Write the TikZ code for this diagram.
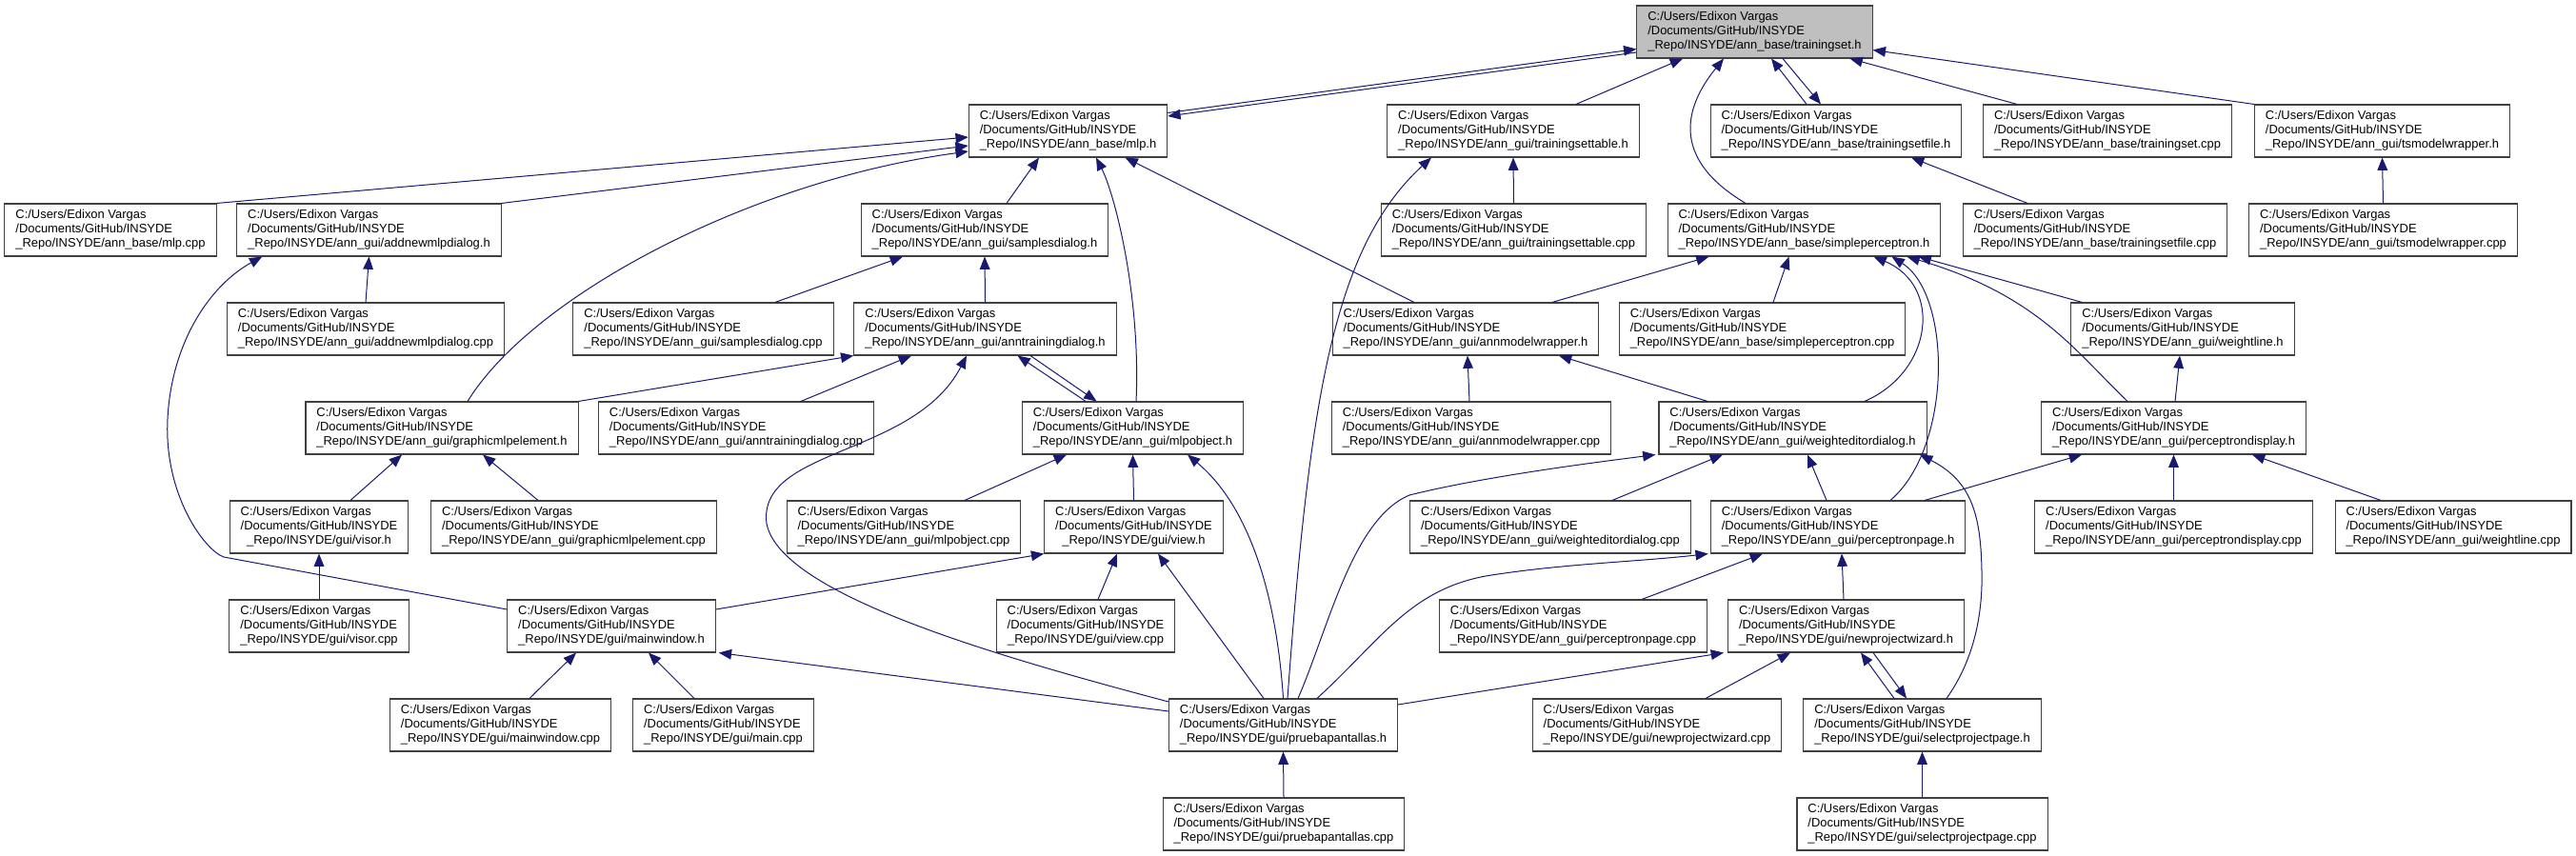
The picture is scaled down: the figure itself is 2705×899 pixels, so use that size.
\documentclass[tikz,border=0pt]{standalone}
\usepackage{fontspec}
\setmainfont{Liberation Sans}
\usetikzlibrary{arrows.meta, calc}
\definecolor{edgeblue}{HTML}{191970}
\definecolor{boxline}{HTML}{404040}
\definecolor{curfile}{HTML}{BFBFBF}
\newcommand{\fpath}[1]{\begin{tabular}{@{}l@{}}C:/Users/Edixon Vargas\\/Documents/GitHub/INSYDE\\\multicolumn{1}{@{}c@{}}{\_Repo/INSYDE/#1}\end{tabular}}
\tikzset{
  file/.style={draw=boxline, line width=0.8pt, fill=white, inner xsep=8.6pt, inner ysep=0pt,
    minimum height=41.25pt, font=\fontsize{9.7pt}{11pt}\selectfont},
  edge/.style={draw=edgeblue, line width=0.75pt, -{Triangle[length=10pt,width=8pt]}}
}
\begin{document}
\begin{tikzpicture}[x=0.75pt, y=-0.75pt]
    \useasboundingbox (0,0) rectangle (2705,899);
    % Row 0
    \node[file, fill=curfile] (ts) at (1842.5,33.5) {\fpath{ann\_base/trainingset.h}};
    % Row 1
    \node[file] (mlph) at (1121.5,137.5) {\fpath{ann\_base/mlp.h}};
    \node[file] (tstableh) at (1589,137.5) {\fpath{ann\_gui/trainingsettable.h}};
    \node[file] (tsfileh) at (1928,137.5) {\fpath{ann\_base/trainingsetfile.h}};
    \node[file] (tscpp) at (2213,137.5) {\fpath{ann\_base/trainingset.cpp}};
    \node[file] (tsmwh) at (2501.5,137.5) {\fpath{ann\_gui/tsmodelwrapper.h}};
    % Row 2
    \node[file] (mlpcpp) at (116,241.5) {\fpath{ann\_base/mlp.cpp}};
    \node[file] (addnewh) at (387.5,241.5) {\fpath{ann\_gui/addnewmlpdialog.h}};
    \node[file] (samplesh) at (1034,241.5) {\fpath{ann\_gui/samplesdialog.h}};
    \node[file] (tstablecpp) at (1589.5,241.5) {\fpath{ann\_gui/trainingsettable.cpp}};
    \node[file] (spercepth) at (1894.5,241.5) {\fpath{ann\_base/simpleperceptron.h}};
    \node[file] (tsfilecpp) at (2200,241.5) {\fpath{ann\_base/trainingsetfile.cpp}};
    \node[file] (tsmwcpp) at (2502.5,241.5) {\fpath{ann\_gui/tsmodelwrapper.cpp}};
    % Row 3
    \node[file] (addnewcpp) at (384,345.5) {\fpath{ann\_gui/addnewmlpdialog.cpp}};
    \node[file] (samplescpp) at (738.5,345.5) {\fpath{ann\_gui/samplesdialog.cpp}};
    \node[file] (anntrainh) at (1034.5,345.5) {\fpath{ann\_gui/anntrainingdialog.h}};
    \node[file] (annmwh) at (1539,345.5) {\fpath{ann\_gui/annmodelwrapper.h}};
    \node[file] (sperceptcpp) at (1850.5,345.5) {\fpath{ann\_base/simpleperceptron.cpp}};
    \node[file] (weightlineh) at (2292,345.5) {\fpath{ann\_gui/weightline.h}};
    % Row 4
    \node[file] (graphich) at (464,449.5) {\fpath{ann\_gui/graphicmlpelement.h}};
    \node[file] (anntraincpp) at (773,449.5) {\fpath{ann\_gui/anntrainingdialog.cpp}};
    \node[file] (mlpobjh) at (1189.5,449.5) {\fpath{ann\_gui/mlpobject.h}};
    \node[file] (annmwcpp) at (1545,449.5) {\fpath{ann\_gui/annmodelwrapper.cpp}};
    \node[file] (wedith) at (1882.5,449.5) {\fpath{ann\_gui/weighteditordialog.h}};
    \node[file] (pdisplayh) at (2282.5,449.5) {\fpath{ann\_gui/perceptrondisplay.h}};
    % Row 5
    \node[file] (visorh) at (335,553.5) {\fpath{gui/visor.h}};
    \node[file] (graphiccpp) at (602.5,553.5) {\fpath{ann\_gui/graphicmlpelement.cpp}};
    \node[file] (mlpobjcpp) at (949,553.5) {\fpath{ann\_gui/mlpobject.cpp}};
    \node[file] (viewh) at (1190.5,553.5) {\fpath{gui/view.h}};
    \node[file] (weditcpp) at (1628,553.5) {\fpath{ann\_gui/weighteditordialog.cpp}};
    \node[file] (ppageh) at (1930,553.5) {\fpath{ann\_gui/perceptronpage.h}};
    \node[file] (pdisplaycpp) at (2282.5,553.5) {\fpath{ann\_gui/perceptrondisplay.cpp}};
    \node[file] (weightlinecpp) at (2576,553.5) {\fpath{ann\_gui/weightline.cpp}};
    % Row 6
    \node[file] (visorcpp) at (335,657.5) {\fpath{gui/visor.cpp}};
    \node[file] (mainwinh) at (642,657.5) {\fpath{gui/mainwindow.h}};
    \node[file] (viewcpp) at (1140,657.5) {\fpath{gui/view.cpp}};
    \node[file] (ppagecpp) at (1652,657.5) {\fpath{ann\_gui/perceptronpage.cpp}};
    \node[file] (npwh) at (1938.5,657.5) {\fpath{gui/newprojectwizard.h}};
    % Row 7
    \node[file] (mainwincpp) at (525.5,761.5) {\fpath{gui/mainwindow.cpp}};
    \node[file] (maincpp) at (759.5,761.5) {\fpath{gui/main.cpp}};
    \node[file] (pruebah) at (1347.5,761.5) {\fpath{gui/pruebapantallas.h}};
    \node[file] (npwcpp) at (1740,761.5) {\fpath{gui/newprojectwizard.cpp}};
    \node[file] (spph) at (2018.5,761.5) {\fpath{gui/selectprojectpage.h}};
    % Row 8
    \node[file] (pruebacpp) at (1348,865.5) {\fpath{gui/pruebapantallas.cpp}};
    \node[file] (sppcpp) at (2018.5,865.5) {\fpath{gui/selectprojectpage.cpp}};

    % to trainingset.h
    \draw[edge] ($(mlph.east)+(0,-19)$) -- ($(ts.west)+(0,18)$);
    \draw[edge] ($(ts.west)+(0,21.5)$) -- ($(mlph.east)+(0,-15.5)$);
    \draw[edge] ($(tstableh.north)+(66,0)$) -- ($(ts.south)+(-75.5,0)$);
    \draw[edge] ($(spercepth.north)+(-61.5,0)$) .. controls (1758,169) and (1765,117) .. ($(ts.south)+(-32.5,0)$);
    \draw[edge] ($(tsfileh.north)+(-31,0)$) -- ($(ts.south)+(17.5,0)$);
    \draw[edge] ($(ts.south)+(29.5,0)$) -- ($(tsfileh.north)+(-16,0)$);
    \draw[edge] ($(tscpp.north)+(-95,0)$) -- ($(ts.south)+(100,0)$);
    \draw[edge] (tsmwh.north west) -- ($(ts.east)+(0,19)$);

    % to mlp.h
    \draw[edge] (mlpcpp.north east) -- ($(mlph.west)+(0,6.5)$);
    \draw[edge] (addnewh.north east) -- ($(mlph.west)+(0,15.5)$);
    \draw[edge] ($(graphich.north)+(27,0)$) .. controls (560,310) and (788,190) .. ($(mlph.west)+(0,21.5)$);
    \draw[edge] ($(samplesh.north)+(23,0)$) -- ($(mlph.south)+(-30.5,0)$);
    \draw[edge] ($(mlpobjh.north)+(3.5,0)$) .. controls (1198,312) and (1171,205) .. ($(mlph.south)+(29.5,0)$);
    \draw[edge] ($(annmwh.north)+(-54,0)$) -- ($(mlph.south)+(60,0)$);

    % to samplesdialog.h
    \draw[edge] ($(samplescpp.north)+(75.5,0)$) -- ($(samplesh.south)+(-86,0)$);
    \draw[edge] (anntrainh.north) -- (samplesh.south);

    % to anntrainingdialog.h
    \draw[edge] (graphich.north east) -- (anntrainh.south west);
    \draw[edge] ($(anntraincpp.north)+(68,0)$) -- ($(anntrainh.south)+(-77.5,0)$);
    \draw[edge] ($(pruebah.west)+(0,-24.5)$) .. controls (1050,690) and (820,625) .. (805,550)
        .. controls (795,470) and (960,480) .. ($(anntrainh.south)+(-19.5,0)$);
    \draw[edge] ($(mlpobjh.north)+(-49.5,0)$) -- ($(anntrainh.south)+(34,0)$);
    \draw[edge] ($(anntrainh.south)+(47.5,0)$) -- ($(mlpobjh.north)+(-38,0)$);

    % to trainingsettable.h, trainingsetfile.h, tsmodelwrapper.h
    \draw[edge] (tstablecpp.north) -- (tstableh.south);
    \draw[edge] ($(pruebah.north)+(4.5,0)$) .. controls (1375,420) and (1400,260) .. ($(tstableh.south)+(-86,0)$);
    \draw[edge] ($(tsfilecpp.north)+(-71,0)$) -- ($(tsfileh.south)+(79,0)$);
    \draw[edge] (tsmwcpp.north) -- (tsmwh.south);

    % to addnewmlpdialog.h
    \draw[edge] (addnewcpp.north) -- (addnewh.south);
    \draw[edge] ($(mainwinh.west)+(0,-17.5)$) -- (235,585) .. controls (215,578) and (172,520) .. (176,440)
        .. controls (180,360) and (220,300) .. ($(addnewh.south west)+(27,0)$);

    % to graphicmlpelement.h, visor.h
    \draw[edge] ($(visorh.north)+(33,0)$) -- ($(graphich.south)+(-42,0)$);
    \draw[edge] ($(graphiccpp.north)+(-37.5,0)$) -- ($(graphich.south)+(43,0)$);
    \draw[edge] (visorcpp.north) -- (visorh.south);

    % to mlpobject.h
    \draw[edge] ($(mlpobjcpp.north)+(64,0)$) -- ($(mlpobjh.south)+(-69.5,0)$);
    \draw[edge] (viewh.north) -- (mlpobjh.south);
    \draw[edge] (pruebah.north) .. controls (1340,620) and (1310,530) .. ($(mlpobjh.south)+(57.5,0)$);

    % to view.h
    \draw[edge] ($(viewcpp.north)+(13,0)$) -- ($(viewh.south)+(-17.5,0)$);
    \draw[edge] ($(mainwinh.east)+(0,-17.5)$) -- (viewh.south west);
    \draw[edge] ($(pruebah.north)+(-20.5,0)$) -- ($(viewh.south)+(25.5,0)$);

    % to mainwindow.h, pruebapantallas.h
    \draw[edge] ($(pruebah.west)+(0,-14.5)$) -- ($(mainwinh.south east)+(3,0)$);
    \draw[edge] ($(mainwincpp.north)+(30.5,0)$) -- ($(mainwinh.south)+(-37,0)$);
    \draw[edge] ($(maincpp.north)+(-30.5,0)$) -- ($(mainwinh.south)+(39,0)$);
    \draw[edge] (pruebacpp.north) -- (pruebah.south);

    % to simpleperceptron.h
    \draw[edge] ($(annmwh.north)+(91,0)$) -- ($(spercepth.south)+(-100,0)$);
    \draw[edge] ($(sperceptcpp.north)+(11.5,0)$) -- ($(spercepth.south)+(-16,0)$);
    \draw[edge] ($(wedith.north)+(75.5,0)$) .. controls (2030,390) and (2040,300) .. ($(spercepth.south)+(73,0)$);
    \draw[edge] ($(ppageh.north)+(55,0)$) .. controls (2050,470) and (2050,310) .. ($(spercepth.south)+(92,0)$);
    \draw[edge] ($(pdisplayh.north)+(-48.5,0)$) .. controls (2180,370) and (2140,310) .. ($(spercepth.south)+(108,0)$);
    \draw[edge] ($(weightlineh.north west)+(12,0)$) -- ($(spercepth.south)+(120,0)$);

    % to annmodelwrapper.h
    \draw[edge] ($(annmwcpp.north)+(-2,0)$) -- ($(annmwh.south)+(2,0)$);
    \draw[edge] ($(wedith.north)+(-89.5,0)$) -- ($(annmwh.south)+(98,0)$);

    % to weighteditordialog.h
    \draw[edge] ($(weditcpp.north)+(65,0)$) -- ($(wedith.south)+(-73.5,0)$);
    \draw[edge] ($(ppageh.north)+(-12,0)$) -- ($(wedith.south)+(15.5,0)$);
    \draw[edge] ($(spph.north)+(25.5,0)$) .. controls (2075,690) and (2082,640) .. (2081,600)
        .. controls (2080,540) and (2070,505) .. ($(wedith.south)+(133.5,0)$);
    \draw[edge] ($(pruebah.north)+(15.5,0)$) .. controls (1395,660) and (1420,545) .. (1480,520)
        .. controls (1560,500) and (1680,485) .. ($(wedith.south west)+(-3,0)$);

    % to perceptrondisplay.h, weightline.h
    \draw[edge] ($(pdisplayh.north)+(1.5,0)$) -- ($(weightlineh.south)+(-3,0)$);
    \draw[edge] ($(ppageh.north)+(91,0)$) -- ($(pdisplayh.south)+(-96.5,0)$);
    \draw[edge] (pdisplaycpp.north) -- (pdisplayh.south);
    \draw[edge] ($(weightlinecpp.north)+(-76,0)$) -- ($(pdisplayh.south)+(82.5,0)$);

    % to perceptronpage.h
    \draw[edge] ($(ppagecpp.north)+(72,0)$) -- ($(ppageh.south)+(-79,0)$);
    \draw[edge] ($(npwh.north)+(-2.5,0)$) -- ($(ppageh.south)+(4,0)$);
    \draw[edge] ($(pruebah.north)+(35.5,0)$) .. controls (1450,672) and (1480,620) .. (1560,605)
        .. controls (1640,592) and (1720,590) .. ($(ppageh.south west)+(-2,0)$);

    % to newprojectwizard.h, selectprojectpage.h
    \draw[edge] ($(npwcpp.north)+(51,0)$) -- ($(npwh.south)+(-58.5,0)$);
    \draw[edge] ($(spph.north)+(-29.5,0)$) -- ($(npwh.south)+(15.5,0)$);
    \draw[edge] ($(npwh.south)+(28.5,0)$) -- ($(spph.north)+(-16.5,0)$);
    \draw[edge] ($(pruebah.east)+(0,-21.5)$) -- ($(npwh.south west)+(-4,0)$);
    \draw[edge] (sppcpp.north) -- (spph.south);
\end{tikzpicture}
\end{document}
